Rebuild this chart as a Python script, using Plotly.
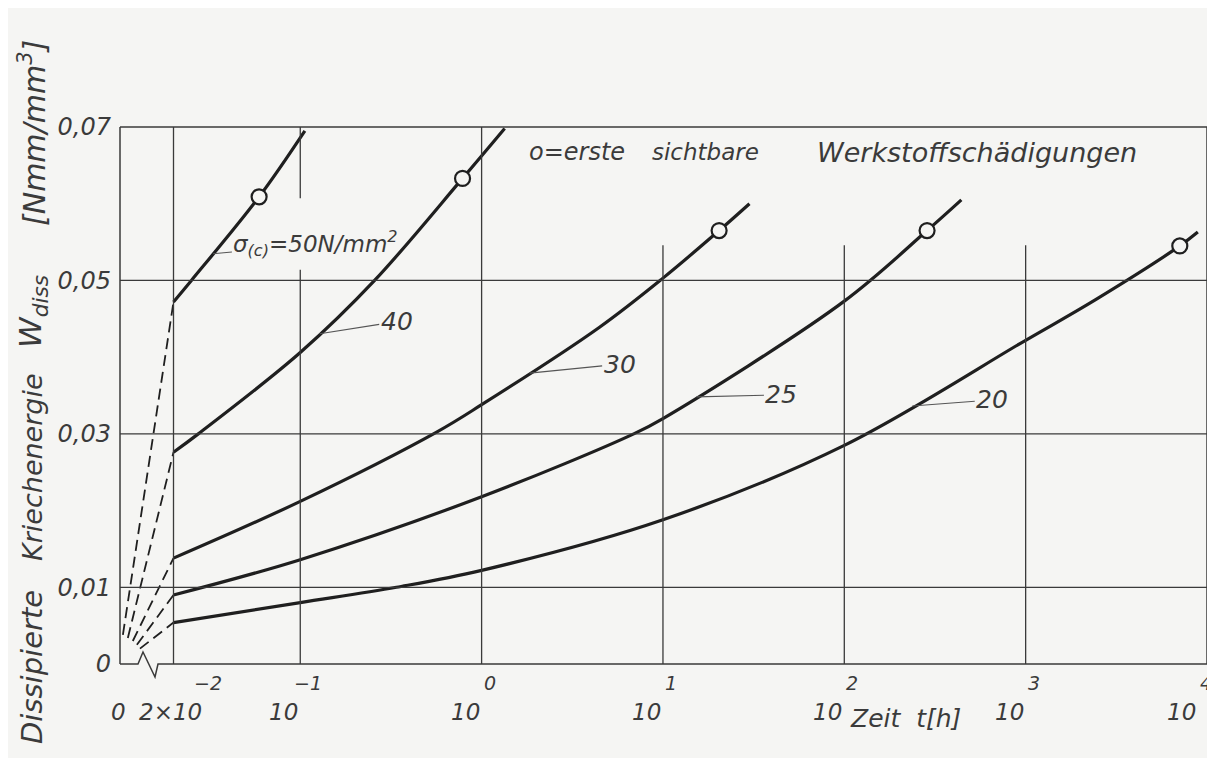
import numpy as np
import plotly.graph_objects as go

# ---------------- data (t in hours, W in Nmm/mm^3) ----------------
stress_labels = ["50", "40", "30", "25", "20"]

t_50 = [0.02, 0.0251, 0.0593, 0.106]
w_50 = [0.0472, 0.0500, 0.0609, 0.0695]

t_40 = [0.02, 0.0274, 0.1, 0.257, 0.785, 1.34]
w_40 = [0.0276, 0.0300, 0.0406, 0.0500, 0.0633, 0.0698]

t_30 = [0.02, 0.1, 0.562, 1.0, 4.47, 10.0, 20.4, 30.0]
w_30 = [0.0138, 0.0212, 0.0302, 0.0338, 0.0439, 0.0503, 0.0565, 0.0600]

t_25 = [0.02, 0.1, 1.0, 6.9, 10.0, 100.0, 286.0, 442.0]
w_25 = [0.0090, 0.0136, 0.0218, 0.0300, 0.0320, 0.0473, 0.0565, 0.0605]

t_20 = [0.02, 0.1, 0.339, 1.0, 10.0, 100.0, 1000.0, 2432.0, 7080.0, 8900.0]
w_20 = [0.0054, 0.0080, 0.0100, 0.0122, 0.0188, 0.0285, 0.0422, 0.0475, 0.0545, 0.0563]

# first visible material damage (open circles)
damage_t = [0.0593, 0.785, 20.4, 286.0, 7080.0]
damage_w = [0.0609, 0.0633, 0.0565, 0.0565, 0.0545]

# dashed start (t = 0 on the broken axis) positions and energies
zero_pos_t = [0.01052, 0.0112, 0.01193, 0.01256, 0.01306]
zero_w = [0.0038, 0.0034, 0.0030, 0.0025, 0.0020]

# where the leader lines touch the curves
leader_t = [0.033, 0.128, 1.84, 15.3, 237.0]

# axes
x_tick_t = [0.02, 0.1, 1, 10, 100, 1000, 10000]
x_tick_base = ["2×10", "10", "10", "10", "10", "10", "10"]
x_tick_exp = ["−2", "−1", "0", "1", "2", "3", "4"]
y_tick_vals = [0, 0.01, 0.03, 0.05, 0.07]
y_tick_text = ["0", "0,01", "0,03", "0,05", "0,07"]
h_grid = [0.01, 0.03, 0.05]

curves_t = [t_50, t_40, t_30, t_25, t_20]
curves_w = [w_50, w_40, w_30, w_25, w_20]

# ---------------- layout constants ----------------
# the page body adds an 8 px offset, so the figure is 8 px smaller
W_PX, H_PX = 1207, 750
ML, MR, MT, MB = 112, 8, 119, 94
PW, PH = W_PX - ML - MR, H_PX - MT - MB
X_MIN, X_MAX = -1.994, 4.0
Y_MAX = 0.07

INK = "#1f1f1f"
GRID = "#3a3a3a"
TXT = "#3b3b3b"
BG = "#f5f5f3"
FONT = "DejaVu Sans"


def px(x):
    """screen x (reference pixels) -> paper fraction"""
    return (x - 8 - ML) / PW


def py(y):
    """screen y (reference pixels) -> paper fraction"""
    return (H_PX - MB - (y - 8)) / PH


fig = go.Figure()

# dashed initial parts
for i in range(5):
    fig.add_trace(go.Scatter(
        x=np.log10([zero_pos_t[i], curves_t[i][0]]),
        y=[zero_w[i], curves_w[i][0]],
        mode="lines", line=dict(color=INK, width=1.8, dash="11px,6px"),
        hoverinfo="skip", showlegend=False))

# main curves
for i in range(5):
    fig.add_trace(go.Scatter(
        x=np.log10(curves_t[i]), y=curves_w[i], mode="lines",
        line=dict(color=INK, width=3.2, shape="spline", smoothing=1.0),
        name=stress_labels[i], showlegend=False))

# damage circles
fig.add_trace(go.Scatter(
    x=np.log10(damage_t), y=damage_w, mode="markers",
    marker=dict(symbol="circle", size=15, color=BG, line=dict(color=INK, width=2.2)),
    showlegend=False, hoverinfo="skip"))

shapes = []
gl = dict(color=GRID, width=1.3)
for g in h_grid:
    shapes.append(dict(type="line", xref="paper", yref="y", x0=0, x1=1, y0=g, y1=g, line=gl))
w_top_short = 0.0546
for tv in x_tick_t[:-1]:
    lx = np.log10(tv)
    if tv in (0.02, 1):
        shapes.append(dict(type="line", xref="x", yref="y", x0=lx, x1=lx, y0=0, y1=Y_MAX, line=gl))
    elif tv == 0.1:
        shapes.append(dict(type="line", xref="x", yref="y", x0=lx, x1=lx, y0=0, y1=0.0514, line=gl))
        shapes.append(dict(type="line", xref="x", yref="y", x0=lx, x1=lx, y0=0.0607, y1=Y_MAX, line=gl))
    else:
        shapes.append(dict(type="line", xref="x", yref="y", x0=lx, x1=lx, y0=0, y1=w_top_short, line=gl))
# frame (with axis break)
fl = dict(color=GRID, width=1.5)
shapes.append(dict(type="line", xref="paper", yref="paper", x0=0, x1=0, y0=0, y1=1, line=fl))
shapes.append(dict(type="line", xref="paper", yref="paper", x0=0, x1=1, y0=1, y1=1, line=fl))
shapes.append(dict(type="line", xref="paper", yref="paper", x0=1, x1=1, y0=0, y1=1, line=fl))
shapes.append(dict(type="path", xref="paper", yref="paper",
                   path=f"M {px(120)},{py(664)} L {px(138)},{py(664)} L {px(143)},{py(652)} "
                        f"L {px(155)},{py(677)} L {px(158)},{py(664)} L {px(1207)},{py(664)}",
                   line=fl))

annotations = []
tf = dict(family=FONT, size=23, color=TXT, style="italic")
ef = dict(family=FONT, size=19, color=TXT, style="italic")
base_shift = {0.02: 30, 10000: -9}
exp_shift = {0.02: 18, 10000: -9}
for tv, base, ex in zip(x_tick_t, x_tick_base, x_tick_exp):
    lx = np.log10(tv)
    sb = base_shift.get(tv, 0)
    se = exp_shift.get(tv, -8 if ex.startswith("−") else 0)
    annotations.append(dict(x=lx, y=py(712), xref="x", yref="paper", text=base, showarrow=False,
                            xanchor="right", yanchor="middle", xshift=sb, font=tf))
    annotations.append(dict(x=lx, y=py(683), xref="x", yref="paper", text=ex, showarrow=False,
                            xanchor="left", yanchor="middle", xshift=se, font=ef))
annotations.append(dict(x=px(118), y=py(712), xref="paper", yref="paper", text="0", showarrow=False,
                        xanchor="center", yanchor="middle", font=tf))
# axis titles
annotations.append(dict(x=px(905), y=py(718), xref="paper", yref="paper", text="Zeit  t[h]",
                        showarrow=False, xanchor="center", yanchor="middle",
                        font=dict(family=FONT, size=25, color=TXT, style="italic")))
ytitle = [("Dissipierte", 667, 29), ("Kriechenergie", 467, 27),
          ("W<sub>diss</sub>", 312, 31), ("[Nmm/mm<sup>3</sup>]", 133, 30)]
for txt, yc, fs in ytitle:
    annotations.append(dict(x=px(32), y=py(yc), xref="paper", yref="paper", text=txt,
                            textangle=-90, showarrow=False, xanchor="center", yanchor="middle",
                            font=dict(family=FONT, size=fs, color=TXT, style="italic")))
# header note
for txt, xl, fs in [("o=erste", 527, 24), ("sichtbare", 650, 23), ("Werkstoffschädigungen", 815, 27)]:
    annotations.append(dict(x=px(xl), y=py(152), xref="paper", yref="paper", text=txt,
                            showarrow=False, xanchor="left", yanchor="middle",
                            font=dict(family=FONT, size=fs, color=TXT, style="italic")))
# curve labels with leader lines
label_text = ["σ<sub>(c)</sub>=50N/mm<sup>2</sup>", "40", "30", "25", "20"]
label_off = [(103, -10), (77, -12), (90, -9), (85, -2), (80, -6)]
for i in range(5):
    lt = np.log10(leader_t[i])
    lw = float(np.interp(lt, np.log10(curves_t[i]), curves_w[i]))
    annotations.append(dict(x=lt, y=lw, xref="x", yref="y", text=label_text[i],
                            showarrow=True, arrowhead=0, arrowwidth=1.1, arrowcolor="#555",
                            ax=label_off[i][0], ay=label_off[i][1], standoff=0,
                            font=dict(family=FONT, size=25 if i else 23, color=TXT, style="italic")))

fig.update_layout(
    width=W_PX, height=H_PX,
    margin=dict(l=ML, r=MR, t=MT, b=MB),
    paper_bgcolor=BG, plot_bgcolor=BG,
    shapes=shapes, annotations=annotations,
    xaxis=dict(range=[X_MIN, X_MAX], showgrid=False, zeroline=False, showticklabels=False,
               showline=False, ticks=""),
    yaxis=dict(range=[0, Y_MAX], showgrid=False, zeroline=False, showline=False,
               tickvals=y_tick_vals, ticktext=y_tick_text, ticks="", ticklabelstandoff=8,
               tickfont=dict(family=FONT, size=24, color=TXT, style="italic")),
)

fig.write_html("out.html")
